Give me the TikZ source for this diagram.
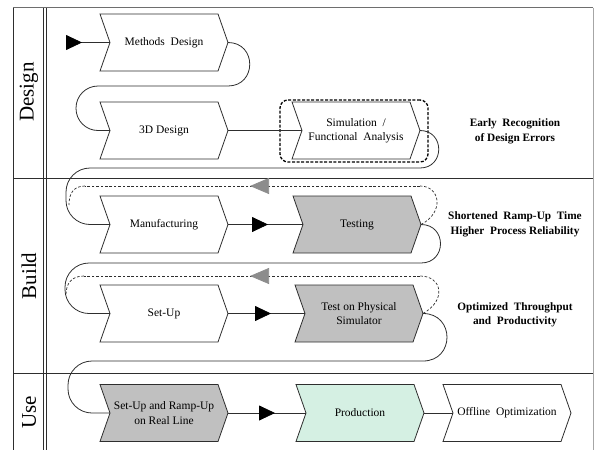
\documentclass[tikz,border=0pt]{standalone}
\usepackage{fontspec}
\setmainfont{Liberation Serif}
\usetikzlibrary{arrows.meta,decorations.markings}

\definecolor{boxgray}{HTML}{C0C0C0}
\definecolor{mint}{HTML}{D5F0E3}
\definecolor{linegray}{HTML}{2E2E2E}
\definecolor{tipgray}{HTML}{8C8C8C}
\definecolor{framegray}{HTML}{6E6E6E}

% chevron process box: name, left x, centre y, fill, text
\newcommand{\chevbox}[5]{%
  \path[chevron, fill=#4] (#2,#3-28.5) -- ++(118,0) -- ++(10,28.5) -- ++(-10,28.5)
     -- ++(-118,0) -- ++(10,-28.5) -- cycle;
  \node[boxtext] (#1) at (#2+64,#3) {#5};
  \coordinate (#1-in) at (#2+10,#3);
  \coordinate (#1-out) at (#2+128,#3);
}

\tikzset{
  chevron/.style={draw=linegray, line width=0.8pt},
  boxtext/.style={align=center, inner sep=0pt, font=\fontsize{11.5}{14.5}\selectfont},
  conn/.style={draw=linegray, line width=0.8pt},
  fback/.style={draw=linegray, line width=0.7pt, dash pattern=on 2.6pt off 1.8pt},
  midtri/.style={postaction={decorate}, decoration={markings,
      mark=at position #1 with {\arrow{Triangle[length=16pt,width=15pt,color=black]}}}},
  backtri/.style={postaction={decorate}, decoration={markings,
      mark=at position #1 with {\arrow{Triangle[length=19pt,width=16pt,color=tipgray]}}}},
  lane/.style={rotate=90, inner sep=0pt, font=\fontsize{21}{21}\selectfont},
  gain/.style={align=center, inner sep=0pt, font=\bfseries\fontsize{11.3}{14.5}\selectfont},
  simframe/.style={draw=black, line width=1.3pt, dash pattern=on 3pt off 1.6pt,
      rounded corners=8pt, minimum width=148pt, minimum height=62pt, inner sep=0pt},
}

\begin{document}
\begin{tikzpicture}[x=1pt, y=-1pt]
\useasboundingbox (0,0) rectangle (594,450);

% swimlane frame
\draw[framegray, line width=1.2pt] (13,7.5) -- (593,7.5);
\draw[linegray, line width=0.8pt] (13,7.5) -- (13,450);
\draw[linegray, line width=0.8pt] (43.5,7.5) -- (43.5,450);
\draw[linegray, line width=0.8pt] (46.5,7.5) -- (46.5,450);
\draw[gray!70, line width=0.6pt] (593,7.5) -- (593,450);
\draw[linegray, line width=0.8pt] (13,178) -- (593,178);
\draw[linegray, line width=0.8pt] (13,373) -- (593,373);

\node[lane] (laneD) at (29,92) {Design};
\node[lane] (laneB) at (29,276) {Build};
\node[lane] (laneU) at (29,412) {Use};

% frame around the simulation step
\node[simframe] (simbox) at (354,131) {};

% process steps
\chevbox{meth}{100}{42.5}{white}{Methods\ \ Design}
\chevbox{dd}{100}{130.5}{white}{3D Design}
\chevbox{sim}{292}{130.5}{white}{Simulation\ \ /\\Functional\ \ Analysis}
\chevbox{manu}{100}{224.5}{white}{Manufacturing}
\chevbox{test}{293}{224.5}{boxgray}{Testing}
\chevbox{setup}{100}{313.5}{white}{Set-Up}
\chevbox{phys}{295}{313.5}{boxgray}{Test on Physical\\Simulator}
\chevbox{ramp}{100}{413}{boxgray}{Set-Up and Ramp-Up\\on Real Line}
\chevbox{prod}{296}{413}{mint}{Production}
\chevbox{off}{443}{413}{white}{Offline\ \ Optimization}

% benefits
\node[gain] (gainD) at (515,131.5) {Early\ \ Recognition\\of Design Errors};
\node[gain] (gainB) at (515,224.5) {Shortened\ \ Ramp-Up\ \ Time\\Higher\ \ Process Reliability};
\node[gain] (gainU) at (515,315) {Optimized\ \ Throughput\\and\ \ Productivity};

% entry
\coordinate (start) at (67,42.5);
\draw[conn, midtri=15pt] (start) -- (meth-in);

% main flow
\draw[conn] (meth-out) .. controls (257,42.5) and (257,86) .. (228,86)
   -- (100,86) [rounded corners=22pt] -- (76,86) -- (76,130.5) -- (dd-in);
\draw[conn] (dd-out) -- (sim-in);
\draw[conn] (sim-out) .. controls (445,130.5) and (445,168) .. (420,168)
   -- (100,168) [rounded corners=24pt] -- (66,168) -- (66,224.5) -- (manu-in);
\draw[conn, midtri=40pt] (manu-out) -- (test-in);
\draw[conn] (test-out) .. controls (447,224.5) and (447,263) .. (421,263)
   -- (100,263) [rounded corners=24pt] -- (65,263) -- (65,313.5) -- (setup-in);
\draw[conn, midtri=43pt] (setup-out) -- (phys-in);
\draw[conn] (phys-out) .. controls (455,313.5) and (455,361) .. (423,361)
   -- (100,361) [rounded corners=24pt] -- (68,361) -- (68,413) -- (ramp-in);
\draw[conn, midtri=47pt] (ramp-out) -- (prod-in);
\draw[conn] (prod-out) -- (off-in);

% feedback loops
\coordinate (fbAr) at (420,186);
\coordinate (fbAl) at (85,186);
\coordinate (fbAe) at (69,205);
\draw[fback] (test-out) .. controls (445,212) and (440,186) .. (fbAr);
\draw[fback, backtri=170pt] (fbAr) -- (fbAl);
\draw[fback] (fbAl) .. controls (73,186) and (69,194) .. (fbAe);

\coordinate (fbBr) at (420,276);
\coordinate (fbBl) at (84,276);
\coordinate (fbBe) at (66,295);
\draw[fback] (phys-out) .. controls (447,300) and (442,276) .. (fbBr);
\draw[fback, backtri=170pt] (fbBr) -- (fbBl);
\draw[fback] (fbBl) .. controls (71,276) and (66,284) .. (fbBe);
\end{tikzpicture}
\end{document}
